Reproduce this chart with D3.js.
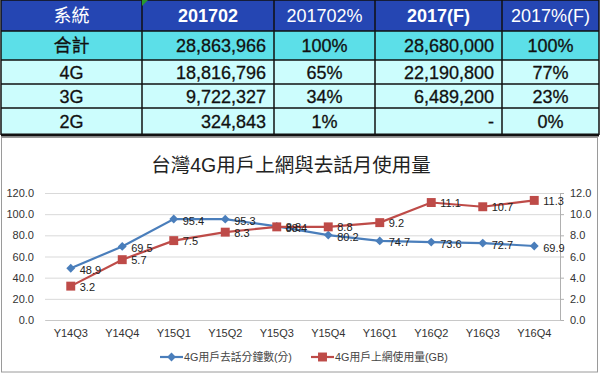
<!DOCTYPE html>
<html>
<head>
<meta charset="utf-8">
<script src="https://cdn.jsdelivr.net/npm/d3@7"></script>
<style>
  body { margin: 0; background: #fff; }
  svg { display: block; }
  text { font-family: "Liberation Sans", "Noto Sans CJK TC", sans-serif; }
</style>
</head>
<body>
<svg></svg>
<script>
// table data
const tableHeader = ['系統', '201702', '201702%', '2017(F)', '2017%(F)']
const systems = ['合計', '4G', '3G', '2G']
const subs201702 = ['28,863,966', '18,816,796', '9,722,327', '324,843']
const pct201702 = ['100%', '65%', '34%', '1%']
const subs2017F = ['28,680,000', '22,190,800', '6,489,200', '-']
const pct2017F = ['100%', '77%', '23%', '0%']

// chart data
const chartTitle = '台灣4G用戶上網與去話月使用量'
const quarters = ['Y14Q3', 'Y14Q4', 'Y15Q1', 'Y15Q2', 'Y15Q3', 'Y15Q4', 'Y16Q1', 'Y16Q2', 'Y16Q3', 'Y16Q4']
const voiceMinutes = [48.9, 69.5, 95.4, 95.3, 88.4, 80.2, 74.7, 73.6, 72.7, 69.9]
const dataUsageGB = [3.2, 5.7, 7.5, 8.3, 8.8, 8.8, 9.2, 11.1, 10.7, 11.3]
const seriesNames = ['4G用戶去話分鐘數(分)', '4G用戶上網使用量(GB)']

const width = 600
const height = 374

const svg = d3.select('svg')
  .attr('width', width)
  .attr('height', height)

svg.append('rect').attr('width', width).attr('height', height).attr('fill', '#fff')

// ---- table ----
const colX = [1, 142, 274, 375, 502, 599]
const rowY = [0, 31, 60, 84, 108, 135]
const align = ['middle', 'end', 'middle', 'end', 'middle']
const columns = [systems, subs201702, pct201702, subs2017F, pct2017F]

const table = svg.append('g').attr('class', 'table')

const cellX = (c) => {
  if (align[c] === 'end') return colX[c + 1] - 8
  return (colX[c] + colX[c + 1]) / 2
}

// header row
tableHeader.forEach((h, c) => {
  table.append('rect')
    .attr('x', colX[c]).attr('y', rowY[0])
    .attr('width', colX[c + 1] - colX[c]).attr('height', rowY[1] - rowY[0])
    .attr('fill', '#2546b3')
  table.append('text')
    .attr('x', (colX[c] + colX[c + 1]) / 2)
    .attr('y', 22)
    .attr('text-anchor', 'middle')
    .attr('fill', '#fff')
    .attr('font-size', 18)
    .attr('font-weight', c === 1 || c === 3 ? 'bold' : 'normal')
    .text(h)
})

// body rows
systems.forEach((s, r) => {
  columns.forEach((col, c) => {
    table.append('rect')
      .attr('x', colX[c]).attr('y', rowY[r + 1])
      .attr('width', colX[c + 1] - colX[c]).attr('height', rowY[r + 2] - rowY[r + 1])
      .attr('fill', r === 0 ? '#5cdfe8' : '#ccfdfd')
    table.append('text')
      .attr('x', cellX(c))
      .attr('y', (rowY[r + 1] + rowY[r + 2]) / 2 + 6.5)
      .attr('text-anchor', align[c])
      .attr('fill', '#111')
      .attr('font-size', 18)
      .attr('stroke', '#111')
      .attr('stroke-width', 0.3)
      .text(col[r])
  })
})

// grid lines of the table
colX.forEach((x) => {
  table.append('line')
    .attr('x1', x).attr('x2', x).attr('y1', 0).attr('y2', rowY[5])
    .attr('stroke', '#111').attr('stroke-width', 1.5)
})
rowY.forEach((y, i) => {
  table.append('line')
    .attr('x1', colX[0]).attr('x2', colX[5]).attr('y1', y).attr('y2', y)
    .attr('stroke', '#111').attr('stroke-width', i === 5 ? 3 : 1.5)
})

// little green comment marker
table.append('path')
  .attr('d', 'M142,0 L148,0 L142,6 Z')
  .attr('fill', '#2a9a2a')

// ---- chart ----
svg.append('rect')
  .attr('x', 1.5).attr('y', 137.5)
  .attr('width', 596).attr('height', 234.5)
  .attr('fill', '#fff')
  .attr('stroke', '#9a9a9a')

svg.append('text')
  .attr('x', 291).attr('y', 172)
  .attr('text-anchor', 'middle')
  .attr('font-family', '"Noto Sans CJK TC", sans-serif')
  .attr('font-size', 19.5)
  .attr('fill', '#222')
  .text(chartTitle)

const plot = { left: 45, right: 560, top: 193, bottom: 320 }

const x = d3.scaleBand().domain(quarters).range([plot.left, plot.right])
const yLeft = d3.scaleLinear().domain([0, 120]).range([plot.bottom, plot.top])
const yRight = d3.scaleLinear().domain([0, 12]).range([plot.bottom, plot.top])
const cx = (d) => x(d) + x.bandwidth() / 2

// gridlines
svg.append('g')
  .attr('class', 'grid')
  .attr('transform', `translate(${plot.left},0)`)
  .call(d3.axisLeft(yLeft).tickValues(d3.range(0, 121, 20)).tickSize(-(plot.right - plot.left)).tickFormat(''))
  .call((g) => g.select('.domain').remove())
  .call((g) => g.selectAll('line').attr('stroke', '#d9d9d9'))

// left axis labels
svg.append('g')
  .attr('transform', `translate(${plot.left},0)`)
  .call(d3.axisLeft(yLeft).tickValues(d3.range(0, 121, 20)).tickSize(0).tickPadding(11).tickFormat(d3.format('.1f')))
  .call((g) => g.select('.domain').remove())
  .call((g) => g.selectAll('text').attr('font-size', 11).attr('fill', '#333').attr('font-family', '"Liberation Sans", sans-serif'))

// right axis
svg.append('g')
  .attr('transform', `translate(${plot.right},0)`)
  .call(d3.axisRight(yRight).tickValues(d3.range(0, 13, 2)).tickSize(4).tickSizeOuter(0).tickPadding(6).tickFormat(d3.format('.1f')))
  .call((g) => g.select('.domain').attr('stroke', '#b0b0b0'))
  .call((g) => g.selectAll('line').attr('stroke', '#b0b0b0'))
  .call((g) => g.selectAll('text').attr('font-size', 11).attr('fill', '#333').attr('font-family', '"Liberation Sans", sans-serif'))

// x axis
svg.append('g')
  .attr('transform', `translate(0,${plot.bottom})`)
  .call(d3.axisBottom(x).tickSize(0).tickPadding(9))
  .call((g) => g.select('.domain').attr('stroke', '#c8c8c8'))
  .call((g) => g.selectAll('text').attr('font-size', 11).attr('fill', '#333').attr('font-family', '"Liberation Sans", sans-serif'))

const blue = '#4a7ebb'
const red = '#be4b48'

const diamond = d3.symbol().type(d3.symbolDiamond2).size(50)
const square = d3.symbol().type(d3.symbolSquare).size(80)

// voice minutes line
svg.append('path')
  .datum(voiceMinutes)
  .attr('fill', 'none')
  .attr('stroke', blue)
  .attr('stroke-width', 2.2)
  .attr('d', d3.line().x((d, i) => cx(quarters[i])).y((d) => yLeft(d)))

svg.selectAll('.vm')
  .data(voiceMinutes)
  .enter().append('path')
  .attr('class', 'vm')
  .attr('transform', (d, i) => `translate(${cx(quarters[i])},${yLeft(d)})`)
  .attr('d', diamond)
  .attr('fill', blue)

// data usage line
svg.append('path')
  .datum(dataUsageGB)
  .attr('fill', 'none')
  .attr('stroke', red)
  .attr('stroke-width', 2.2)
  .attr('d', d3.line().x((d, i) => cx(quarters[i])).y((d) => yRight(d)))

svg.selectAll('.du')
  .data(dataUsageGB)
  .enter().append('path')
  .attr('class', 'du')
  .attr('transform', (d, i) => `translate(${cx(quarters[i])},${yRight(d)})`)
  .attr('d', square)
  .attr('fill', red)

// data labels
svg.selectAll('.vm-label')
  .data(voiceMinutes)
  .enter().append('text')
  .attr('class', 'vm-label')
  .attr('x', (d, i) => cx(quarters[i]) + 9)
  .attr('y', (d) => yLeft(d) + 5.5)
  .attr('font-size', 11)
  .attr('fill', '#222')
  .text((d) => d.toFixed(1))

svg.selectAll('.du-label')
  .data(dataUsageGB)
  .enter().append('text')
  .attr('class', 'du-label')
  .attr('x', (d, i) => cx(quarters[i]) + 9)
  .attr('y', (d) => yRight(d) + 4.5)
  .attr('font-size', 11)
  .attr('fill', '#222')
  .text((d) => d.toFixed(1))

// legend
const legend = [
  { name: seriesNames[0], color: blue, sym: diamond, x: 160 },
  { name: seriesNames[1], color: red, sym: square, x: 311 }
]
legend.forEach((l) => {
  const g = svg.append('g').attr('transform', `translate(${l.x},357)`)
  g.append('line').attr('x1', 0).attr('x2', 23).attr('stroke', l.color).attr('stroke-width', 2.2)
  g.append('path').attr('transform', 'translate(11.5,0)').attr('d', l.sym).attr('fill', l.color)
  g.append('text')
    .attr('x', 24).attr('y', 4)
    .attr('font-size', 10.8)
    .attr('fill', '#444')
    .attr('font-family', '"Noto Sans CJK TC", sans-serif')
    .text(l.name)
})
</script>
</body>
</html>
